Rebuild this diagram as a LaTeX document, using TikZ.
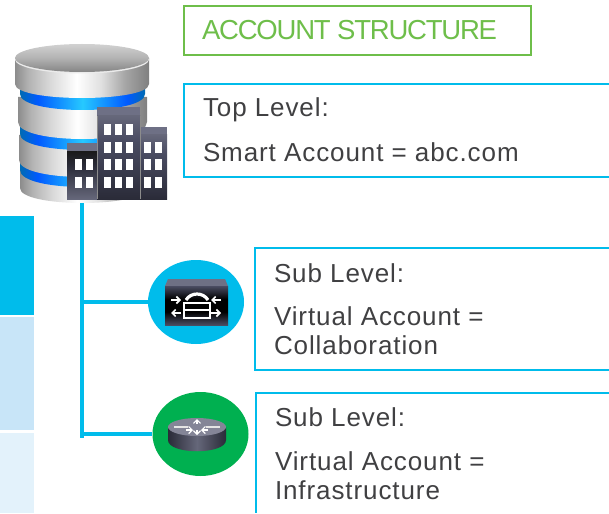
\documentclass[tikz,border=0pt]{standalone}
\usepackage{fontspec}
\setmainfont{Liberation Sans}
\usetikzlibrary{shapes.geometric,arrows.meta}
\definecolor{ciscoblue}{HTML}{00BCEB}
\definecolor{ciscogreen}{HTML}{00B050}
\definecolor{boxgreen}{HTML}{6EBE4A}
\definecolor{bodytext}{HTML}{404042}
\definecolor{barmid}{HTML}{C8E5F8}
\definecolor{barlight}{HTML}{E3F2FB}
\definecolor{slate}{HTML}{4A4C62}
\definecolor{slatecap}{HTML}{6E7085}
\definecolor{slatedark}{HTML}{2A2B38}
\pgfdeclarehorizontalshading{metal}{100bp}{color(0bp)=(black!45);color(25bp)=(black!45);color(30bp)=(black!30);color(38bp)=(black!15);color(48bp)=(white);color(57bp)=(black!12);color(66bp)=(black!35);color(75bp)=(black!50);color(100bp)=(black!50)}
\pgfdeclarehorizontalshading{bluering}{100bp}{color(0bp)=(black!50);color(25bp)=(blue!40!cyan!70!black);color(32bp)=(blue!65!cyan);color(50bp)=(blue!25!cyan!85);color(68bp)=(blue!65!cyan);color(75bp)=(blue!40!cyan!70!black);color(100bp)=(black!50)}
\pgfdeclareverticalshading{platetop}{100bp}{color(0bp)=(black!48);color(25bp)=(black!48);color(50bp)=(black!30);color(75bp)=(black!18);color(100bp)=(black!18)}
\pgfdeclareverticalshading{towerlight}{100bp}{color(0bp)=(slatedark);color(25bp)=(slatedark);color(60bp)=(slate);color(75bp)=(slate!85!white);color(100bp)=(slate!85!white)}
\pgfdeclareverticalshading{towerfront}{100bp}{color(0bp)=(slate!85!white);color(25bp)=(slate!85!white);color(60bp)=(slatedark);color(75bp)=(black!90);color(100bp)=(black!90)}
\pgfdeclareverticalshading{iconbody}{100bp}{color(0bp)=(slate);color(25bp)=(slate);color(42bp)=(black);color(58bp)=(black);color(75bp)=(slate);color(100bp)=(slate)}
\pgfdeclarehorizontalshading{routerside}{100bp}{color(0bp)=(slatedark);color(25bp)=(slatedark);color(50bp)=(slate!85!white);color(75bp)=(slatedark);color(100bp)=(slatedark)}
\newfontface\bodyface[LetterSpace=3.5]{Liberation Sans}
\newfontface\headface[LetterSpace=-4.4]{Liberation Sans}
\tikzset{
  linktext/.style={anchor=base west,inner sep=0pt,outer sep=0pt,text=bodytext,font=\bodyface\fontsize{26}{26}\selectfont},
  headtext/.style={anchor=base west,inner sep=0pt,outer sep=0pt,text=boxgreen,font=\headface\fontsize{27.5}{27.5}\selectfont},
  panel/.style={draw=ciscoblue,line width=2pt},
  connector/.style={draw=ciscoblue,line width=4pt},
  window/.style={fill=white},
  badge/.style={ellipse,minimum width=96pt,minimum height=84pt,inner sep=0pt},
  iconline/.style={draw=white,line width=1.6pt},
  iconarrow/.style={draw=white,line width=1.6pt,-{Straight Barb[length=3.5pt,width=7pt]}}
}
\newcommand{\platter}[6]{%
  \path[shade,shading=#6] (#1,#3) -- (#1,#4) .. controls (#1,#4+1.333*#5) and (#2,#4+1.333*#5) .. (#2,#4) -- (#2,#3) -- cycle;}
\newcommand{\wins}[3]{%
  \foreach \wx in {#1}{\foreach \wy in {#2}{\fill[window] (\wx,\wy) rectangle (\wx+#3,\wy+11);}}}
\begin{document}
\begin{tikzpicture}[x=1pt,y=-1pt]
\useasboundingbox (0,0) rectangle (609,513);
% left bars
\fill[ciscoblue] (0,216) rectangle (34,315);
\fill[barmid] (0,317) rectangle (34,430);
\fill[barlight] (0,433) rectangle (34,513);
% database
\coordinate (dbbase) at (82,203);
\coordinate (linkend) at (82,438);
\platter{20}{145}{170}{188}{15}{metal}
\platter{20}{145}{150}{170}{17}{bluering}
\platter{19}{146}{135}{160}{17}{metal}
\platter{20}{145}{115}{134}{16}{bluering}
\platter{18}{147}{97}{122}{17}{metal}
\platter{20}{145}{80}{94}{16}{bluering}
\platter{15}{149}{58}{84}{14}{metal}
\fill[black!8] (82,59.5) ellipse [x radius=67,y radius=14];
\path[shade,shading=platetop] (82,58) ellipse [x radius=67,y radius=14];
% buildings
\fill[slatecap] (67,143) rectangle (97,151);
\path[shade,shading=towerfront] (67,151) rectangle (97,199);
\fill[slatecap] (140,127) rectangle (167,135);
\path[shade,shading=towerlight] (140,135) rectangle (167,199);
\fill[slatecap] (97,107) rectangle (140,116);
\path[shade,shading=towerlight] (97,116) rectangle (140,199);
\draw[black!45,line width=.6pt] (97,116) -- (97,199) (140,116) -- (140,199);
\wins{104,115,126}{124,142,159,177}{7}
\wins{75,86}{159,177}{7}
\wins{144,155}{142,159,177}{7}
% badges
\node[badge,fill=ciscoblue] (blueBadge) at (196,302) {};
\node[badge,fill=ciscogreen] (greenBadge) at (200.5,434) {};
% connectors
\draw[connector] (dbbase) -- (linkend);
\draw[connector] (blueBadge.west -| dbbase) -- (blueBadge.west);
\draw[connector] (greenBadge.west -| dbbase) -- (greenBadge.west);
% switch icon
\fill[slatecap] (168,279) -- (225,279) -- (228,286) -- (165,286) -- cycle;
\path[shade,shading=iconbody] (165,286) rectangle (228,325);
\draw[iconline] (184,303) rectangle (210,318);
\draw[iconline] (184,310) -- (210,310);
\draw[white,line width=3.2pt] (186,300) .. controls (191,292) and (203,292) .. (208,300);
\draw[iconarrow] (171,300) -- (181,300);
\draw[iconarrow] (221,300) -- (211,300);
\draw[iconarrow] (181,313) -- (171,313);
\draw[iconarrow] (211,313) -- (221,313);
% router icon
\path[shade,shading=routerside] (168,427) -- (168,440) .. controls (168,455) and (226,455) .. (226,440) -- (226,427) -- cycle;
\fill[slatecap!85!white] (197,427) ellipse [x radius=29,y radius=9];
\draw[white!90!black,line width=1.2pt] (174,427) -- (188,427) (206,427) -- (220,427);
\draw[iconarrow,line width=1.2pt] (197,424) -- (197,419);
\draw[iconarrow,line width=1.2pt] (197,430) -- (197,435);
\draw[iconarrow,line width=1.2pt] (186,430) -- (193,430);
\draw[iconarrow,line width=1.2pt] (208,430) -- (201,430);
% boxes
\draw[draw=boxgreen,line width=2pt] (184,6.5) rectangle (530.5,55.5);
\draw[panel] (609,84) -- (184,84) -- (184,177) -- (609,177);
\draw[panel] (609,248) -- (255,248) -- (255,370) -- (609,370);
\draw[panel] (609,393) -- (256,393) -- (256,513);
% text
\node[headtext] (title) at (202,40) {ACCOUNT STRUCTURE};
\node[linktext] (topA) at (203,116.5) {Top Level:};
\node[linktext] (topB) at (203,161) {Smart Account = abc.com};
\node[linktext] (subA) at (274,282) {Sub Level:};
\node[linktext] (subB) at (274,325.5) {Virtual Account =};
\node[linktext] (subC) at (274,354) {Collaboration};
\node[linktext] (infA) at (275,426) {Sub Level:};
\node[linktext] (infB) at (275,470) {Virtual Account =};
\node[linktext] (infC) at (275,499) {Infrastructure};
\end{tikzpicture}
\end{document}
